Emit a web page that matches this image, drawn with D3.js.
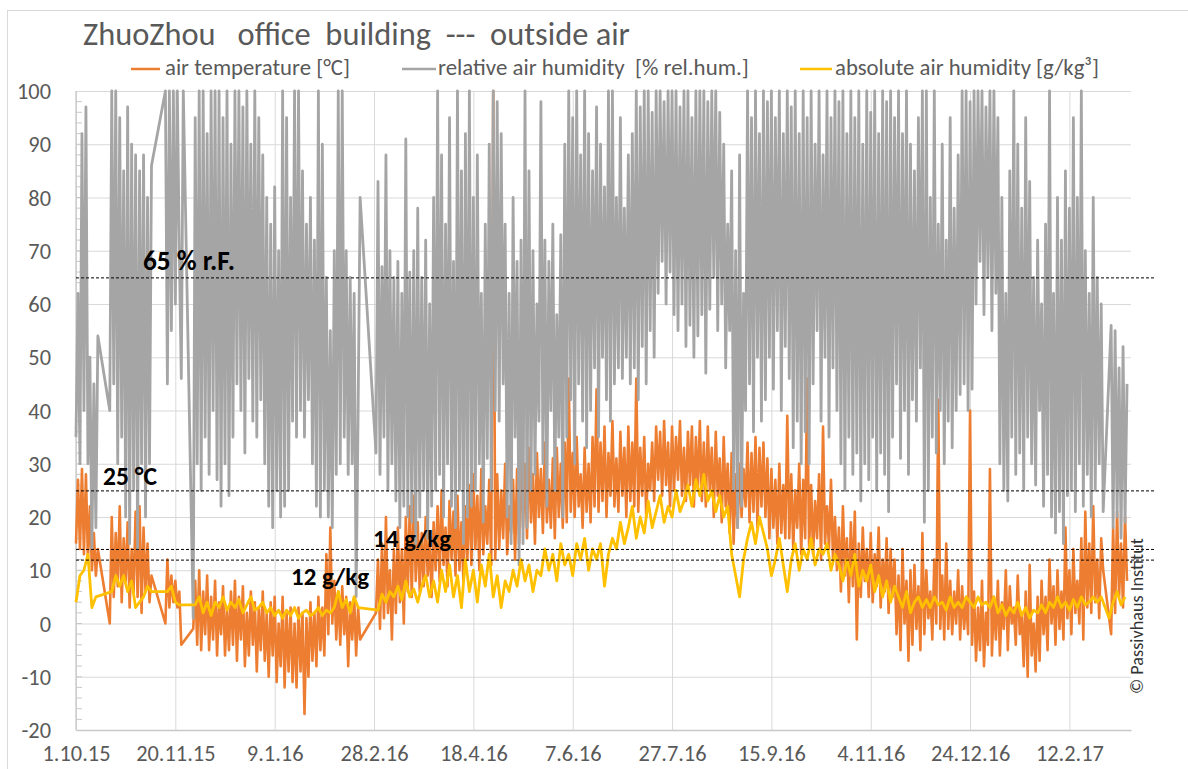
<!DOCTYPE html>
<html><head><meta charset="utf-8">
<script src="https://cdn.jsdelivr.net/npm/d3@7"></script>
<style>
html,body{margin:0;padding:0;background:#fff;}
svg{display:block;}
</style></head><body>
<svg id="chart" width="1188" height="769"></svg>
<script>
// ---------------- DATA ----------------
const titleText = "ZhuoZhou   office  building  ---  outside air";
const seriesNames = ["air temperature [°C]", "relative air humidity  [% rel.hum.]", "absolute air humidity [g/kg³]"];
const seriesColors = ["#ED7D31", "#A5A5A5", "#FFC000"];
const startLabel = "1.10.15";      // first day of the record
const axisDays = 531;              // length of the date axis in days
const xTickLabels = ["1.10.15","20.11.15","9.1.16","28.2.16","18.4.16","7.6.16","27.7.16","15.9.16","4.11.16","24.12.16","12.2.17"];
const yTickValues = [-20,-10,0,10,20,30,40,50,60,70,80,90,100];
const refValues = [65, 25, 14, 12];
const refLabels = ["65 % r.F.", "25 °C", "14 g/kg", "12 g/kg"];
const copyrightText = "© Passivhaus Institut";

// air temperature, one reading per day (alternating day highs / lows), null = no data
const airTemp = [
15,27,14,29,13,28,12,22,10,17,
9,14,null,null,null,null,null,0,20,5,
17,7,22,4,16,8,19,3,14,6,
21,5,22,2,18,6,15,4,9,null,
null,null,null,null,null,0,12,3,9,4,
8,3,6,-4,null,null,null,null,null,-1,
8,-4,10,-5,6,-2,9,-5,5,-3,
8,-6,4,-2,7,-6,3,-5,6,-4,
8,-7,5,-3,7,-8,2,-6,6,-4,
4,-9,3,-5,6,-7,2,-10,4,-6,
5,-11,0,-8,5,-12,2,-9,3,-11,
0,-12,3,-9,2,-17,1,-10,4,-7,
2,-8,5,-5,3,-6,13,-2,18,0,
8,-3,6,-4,7,-2,5,-8,4,-3,
5,-6,3,-3,null,null,null,null,null,null,
null,2,12,-1,15,1,20,2,10,-3,
14,2,18,4,14,0,20,6,22,5,
24,8,19,6,17,7,20,9,15,5,
19,10,22,8,25,11,18,7,23,12,
21,9,24,10,19,8,22,12,26,11,
28,14,24,10,29,13,22,15,27,11,
100,12,28,14,25,16,30,13,22,17,
27,12,29,15,31,18,30,16,33,19,
28,15,32,20,29,17,34,19,27,18,
31,16,33,20,30,18,34,19,46,21,
32,20,35,22,28,18,33,21,30,19,
35,22,44,21,34,23,37,20,32,24,
38,22,31,21,36,24,33,20,37,23,
34,22,46,21,33,24,35,20,30,25,
34,23,37,27,36,24,38,26,34,22,
37,25,35,27,38,24,33,23,36,26,
37,22,35,25,38,23,34,22,37,25,
33,20,36,24,31,19,35,22,30,17,
32,15,28,18,30,20,29,22,34,19,
32,21,35,18,33,22,34,20,31,16,
29,18,27,15,30,17,26,16,39,16,
28,14,25,18,30,13,27,16,46,14,
26,13,23,16,28,12,37,15,22,14,
27,12,20,10,18,6,22,9,16,4,
19,7,21,-3,15,5,18,8,14,5,
17,4,13,7,18,3,12,6,16,2,
14,5,12,-2,9,-5,14,0,8,-7,
10,-4,11,-1,7,-5,17,-2,10,1,
6,-3,12,0,42,-1,9,-3,15,-1,
8,-2,6,0,10,-3,7,-1,5,-2,
40,-4,6,-7,3,-5,8,-8,2,-4,
29,-6,5,-3,8,-6,4,-1,10,-5,
7,0,3,-4,9,-2,2,-8,6,-10,
11,-6,0,-9,5,-7,8,-2,5,-5,
12,0,7,-4,10,-1,6,-3,18,1,
10,-2,14,2,8,0,16,-3,21,3,
15,2,22,4,12,1,16,10,null,null,
null,-2,18,2,21,5,15,3,20,8
];

// relative air humidity, one reading per day (alternating highs / lows), null = no data
const relHum = [
35,62,30,92,40,97,30,50,14,45,
18,54,null,null,null,null,null,40,100,45,
100,30,95,35,85,20,97,15,90,25,
88,14,85,30,88,20,80,30,86,null,
null,null,null,null,null,100,45,100,55,100,
60,100,70,46,100,null,null,null,null,1,
95,30,100,25,100,35,92,28,100,40,
100,27,100,22,95,30,100,24,90,35,
100,45,100,40,97,32,100,46,90,38,
100,35,95,42,88,30,80,22,75,18,
82,25,70,20,100,22,95,25,80,38,
100,35,100,40,85,35,75,42,80,30,
72,22,100,20,90,25,65,20,55,18,
70,28,100,30,100,35,70,28,65,30,
62,5,40,80,null,null,null,null,null,null,
null,32,83,28,67,35,88,25,70,30,
65,23,68,18,62,22,91,20,66,19,
70,15,78,20,65,25,72,16,60,22,
80,25,100,28,88,20,75,30,95,22,
68,18,100,25,85,15,92,20,100,22,
80,25,88,30,62,19,75,31,90,25,
100,40,98,38,92,45,75,20,62,15,
80,35,68,11,72,15,100,18,85,25,
70,28,60,38,98,30,72,22,68,40,
75,25,58,35,73,20,90,35,100,42,
95,30,100,45,88,38,100,33,92,40,
85,48,97,35,90,50,82,42,100,38,
100,45,80,48,95,46,78,50,88,45,
92,48,100,42,97,52,100,45,100,55,
96,50,100,62,100,68,98,60,100,66,
100,58,100,55,97,60,100,52,100,56,
95,50,100,54,100,58,100,47,98,59,
100,65,100,55,96,60,90,48,75,55,
85,25,70,18,88,22,62,40,100,45,
95,36,100,50,92,38,100,42,98,50,
100,44,95,55,100,40,92,52,100,46,
97,33,100,38,92,30,100,36,95,30,
100,45,90,55,100,38,88,50,100,35,
95,48,100,40,98,30,100,25,92,35,
100,28,95,32,100,23,90,30,100,27,
96,35,100,25,92,32,100,28,98,21,
100,35,95,45,100,31,92,40,100,28,
90,42,85,38,95,48,100,19,100,25,
80,35,100,32,75,40,90,30,72,38,
95,33,78,40,88,43,100,45,100,40,
98,44,100,60,100,68,100,58,97,65,
100,55,100,62,95,30,80,25,62,23,
85,35,100,28,90,32,78,25,95,35,
83,30,65,26,72,40,60,22,75,28,
100,20,62,17,80,21,72,15,85,24,
78,25,95,21,80,30,100,22,70,28,
62,20,80,25,65,30,60,21,null,null,
null,56,18,55,20,48,16,52,19,45
];

// absolute air humidity, one reading every second day, null = no data
const absHumStepDays = 2;
const absHum = [
4,9,10,13,3,5,null,null,null,6,
9,7,9,6,8,3,4,5,7,6,
null,null,null,6,7,4,3.5,null,null,null,
3.5,5,2,4,1.5,4,3,5,2.5,4,
3,4.5,2,3.5,5,2.5,3,4,2,3,
1.5,2.5,1,2.5,1.5,3,1,2,2.5,1.5,
2,3,1.5,2.5,2,3,6,3,4.5,2,
5,3,null,null,null,null,2.5,5.5,4,6,
5,7,4.5,8,5,6.5,4,7,9,5,
8,4,10,6,11,5,9,3,12,6,
10,4,11,7,13,5,9,3,8,6,
10,7,12,8,11,6,10,9,14,10,
13,8,15,11,13,9,15,12,16,10,
14,12,15,7,13,16,14,19,15,18,
22,16,20,17,23,18,21,24,19,22,
20,25,21,23,26,22,27,24,28,23,
25,21,24,20,22,13,9,5,12,16,
19,15,20,17,14,9,12,16,11,6,
12,15,10,14,12,16,11,14,13,15,
10,13,11,8,12,9,13,7,10,8,
11,6,9,5,8,4,7,5,3,6,
2,4,5,3,4.5,3,5,3.5,4,2.5,
5,3,4,3,5,4,3,5,3.5,4,
3,5,2,3.5,1.5,3,2,4,1.5,3,
1,2.5,2,3.5,2,4,3,5,3,4,
2.5,4.5,3,5,3.5,4,5,4,5,null,
1,4,6,3.5,5
];

// ---------------- DRAWING ----------------
const FONT = "Carlito, Calibri, Lato, 'Liberation Sans', sans-serif";
const W = 1188, H = 769;
const L = 76, R = 1131, T = 91, B = 730;
const DAY = 864e5;
const parseD = d3.utcParse("%d.%m.%y");
const fmtD = d3.utcFormat("%-d.%-m.%y");
const t0 = parseD(startLabel);
const xTickDates = xTickLabels.map(parseD);

const x = d3.scaleUtc().domain([t0, new Date(+t0 + axisDays * DAY)]).range([L, R]);
const y = d3.scaleLinear().domain([-20, 100]).range([B, T]);

const svg = d3.select("#chart");
svg.append("rect").attr("width", W).attr("height", H).attr("fill", "#fff");
svg.append("rect").attr("x", 7.5).attr("y", 10.5).attr("width", W + 20).attr("height", H + 20)
  .attr("fill", "none").attr("stroke", "#d9d9d9").attr("stroke-width", 1);

function fit(sel, target) {
  const fs = parseFloat(sel.attr("font-size"));
  const w = sel.node().getComputedTextLength();
  if (w > 0) sel.attr("font-size", fs * target / w);
  return parseFloat(sel.attr("font-size"));
}

// tick font size: fit "1.10.15" to its reference width
const probe = svg.append("text").attr("font-family", FONT).attr("font-size", 22).text(xTickLabels[0]);
const tickFs = fit(probe, 68);
probe.remove();

// y axis with gridlines
const gy = svg.append("g").attr("transform", `translate(${L},0)`)
  .call(d3.axisLeft(y).tickValues(yTickValues).tickSize(-(R - L)).tickPadding(L - 51).tickFormat(d => String(d)));
gy.select(".domain").remove();
gy.selectAll(".tick line").attr("stroke", "#d9d9d9").attr("stroke-width", 1);
gy.selectAll(".tick text").attr("fill", "#595959").attr("font-size", tickFs).attr("font-family", FONT).attr("dy", "0.34em");

// x axis with gridlines
const gx = svg.append("g").attr("transform", `translate(0,${B})`)
  .call(d3.axisBottom(x).tickValues(xTickDates).tickSize(-(B - T)).tickSizeOuter(0).tickFormat(fmtD));
gx.select(".domain").attr("stroke", "#c8c8c8").attr("stroke-width", 1.3);
gx.selectAll(".tick line").attr("stroke", "#d9d9d9").attr("stroke-width", 1);
gx.selectAll(".tick text").attr("fill", "#595959").attr("font-size", tickFs).attr("font-family", FONT)
  .attr("y", 761 - B).attr("dy", 0);

// left axis line + minor ticks
svg.append("line").attr("x1", L).attr("x2", L).attr("y1", T).attr("y2", B).attr("stroke", "#c8c8c8").attr("stroke-width", 1.3);
svg.append("g").selectAll("line").data(d3.range(-18, 100, 2)).join("line")
  .attr("x1", L).attr("x2", L + 6).attr("y1", d => y(d)).attr("y2", d => y(d))
  .attr("stroke", "#c8c8c8").attr("stroke-width", 1);

// series
function toPoints(values, step) {
  return values.map((v, i) => ({ t: new Date(+t0 + i * step * DAY), v })).filter(p => p.v !== null);
}
const line = d3.line().x(p => x(p.t)).y(p => y(p.v));
const series = [
  { pts: toPoints(airTemp, 1), color: seriesColors[0], w: 2.6 },
  { pts: toPoints(relHum, 1), color: seriesColors[1], w: 2.8 },
  { pts: toPoints(absHum, absHumStepDays), color: seriesColors[2], w: 2.8 }
];
series.forEach(s => {
  svg.append("path").datum(s.pts).attr("d", line).attr("fill", "none")
    .attr("stroke", s.color).attr("stroke-width", s.w).attr("stroke-linejoin", "round");
});

// reference lines
svg.append("g").selectAll("line").data(refValues).join("line")
  .attr("x1", L).attr("x2", 1155).attr("y1", d => y(d) + 0.5).attr("y2", d => y(d) + 0.5)
  .attr("stroke", "#000").attr("stroke-width", 1).attr("stroke-dasharray", "3,2");

const refLabelPos = [[143, 270, 92], [103, 485, 54], [373, 547, 78], [291, 585, 78]];
refLabels.forEach((txt, i) => {
  const [lx, ly, lw] = refLabelPos[i];
  const t = svg.append("text").attr("x", lx).attr("y", ly).attr("font-family", FONT)
    .attr("font-weight", "bold").attr("font-size", 20).attr("fill", "#000").text(txt);
  fit(t, lw);
});

// title
const title = svg.append("text").attr("x", 83).attr("y", 45).attr("font-family", FONT)
  .attr("font-size", 30).attr("fill", "#595959").attr("xml:space", "preserve").style("white-space", "pre").text(titleText);
fit(title, 547);

// legend
const legendLayout = [[131, 160, 165, 185], [402, 436, 438, 311], [800, 832, 835, 264]];
seriesNames.forEach((name, i) => {
  const [a, b, tx, tw] = legendLayout[i];
  svg.append("line").attr("x1", a).attr("x2", b).attr("y1", 69).attr("y2", 69)
    .attr("stroke", seriesColors[i]).attr("stroke-width", 2.5);
  const t = svg.append("text").attr("x", tx).attr("y", 75).attr("font-family", FONT)
    .attr("font-size", 19).attr("fill", "#595959").style("white-space", "pre").text(name);
  fit(t, tw);
});

// copyright
const cp = svg.append("text").attr("transform", "translate(1143,694) rotate(-90)")
  .attr("font-family", FONT).attr("font-size", 16).attr("fill", "#333").text(copyrightText);
fit(cp, 156);
</script>
</body></html>
